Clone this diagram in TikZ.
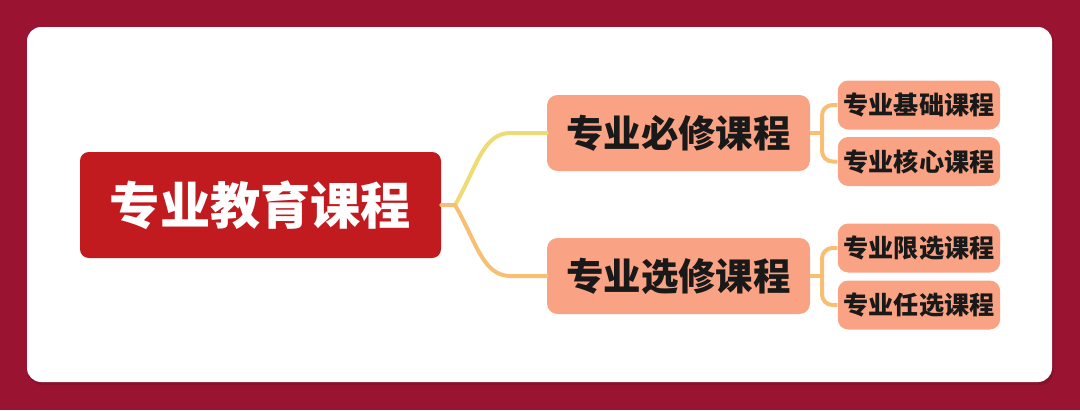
\documentclass[tikz,border=0pt]{standalone}
\usepackage{fontspec}
\usepackage{xcolor}
\usepackage{tikz}
\usetikzlibrary{positioning, calc}
\newfontfamily\cjk{Noto Sans CJK SC}

\definecolor{pageRed}{HTML}{9A1432}
\definecolor{rootRed}{HTML}{C11A1F}
\definecolor{salmon}{HTML}{F9A384}
\definecolor{lineYellow}{HTML}{EEDB74}
\definecolor{lineOrange}{HTML}{F8BE74}

\begin{document}
\begin{tikzpicture}[
    x=0.02cm, y=-0.02cm,
    root/.style={rectangle, rounded corners=5, fill=rootRed, text=white, minimum width=361*0.02cm, minimum height=106*0.02cm, align=center, font=\cjk\bfseries\fontsize{28.6}{32}\selectfont},
    branch/.style={rectangle, rounded corners=6, fill=salmon, text=black!90, minimum width=263*0.02cm, minimum height=76*0.02cm, align=center, font=\cjk\bfseries\fontsize{21.3}{24}\selectfont},
    leaf/.style={rectangle, rounded corners=6, fill=salmon, text=black!90, minimum width=162*0.02cm, minimum height=49*0.02cm, align=center, font=\cjk\bfseries\fontsize{14.3}{16}\selectfont},
    link/.style={line width=4*0.02cm, line cap=round},
    bracket/.style={line width=4*0.02cm, lineOrange, rounded corners=6}
]
% Page and card
\useasboundingbox (0,0) rectangle (1080,410);
\fill[pageRed] (0,0) rectangle (1080,410);
\fill[pageRed!88!black, rounded corners=8] (28,29) rectangle (1054,385);
\fill[white, rounded corners=8] (27,27) rectangle (1052,382);

% Root and branches
\node[root] (root) at (260.5,205) {专业教育课程};
\node[branch] (req) at (678.5,133) {专业必修课程};
\node[branch] (ele) at (678.5,276) {专业选修课程};

% Leaves
\node[leaf] (req1) at (919,105) {专业基础课程};
\node[leaf] (req2) at (919,161.5) {专业核心课程};
\node[leaf] (ele1) at (919,248) {专业限选课程};
\node[leaf] (ele2) at (919,305) {专业任选课程};

% Root to branches
\coordinate (fork) at (455,205);
\draw[link, lineOrange] (root.east) -- (fork);
\draw[link, lineYellow] (fork) .. controls +(22,-38) and +(-28,0) .. ($(req.west)+(-36,0)$) -- (req.west);
\draw[link, lineOrange] (fork) .. controls +(22,38) and +(-28,0) .. ($(ele.west)+(-36,0)$) -- (ele.west);

% Branches to leaves
\coordinate (reqfork) at (822,133);
\coordinate (elefork) at (822,276);
\draw[bracket] (req.east) -- (reqfork);
\draw[bracket] (req1.west) -| (reqfork) |- (req2.west);
\draw[bracket] (ele.east) -- (elefork);
\draw[bracket] (ele1.west) -| (elefork) |- (ele2.west);

\end{tikzpicture}
\end{document}
